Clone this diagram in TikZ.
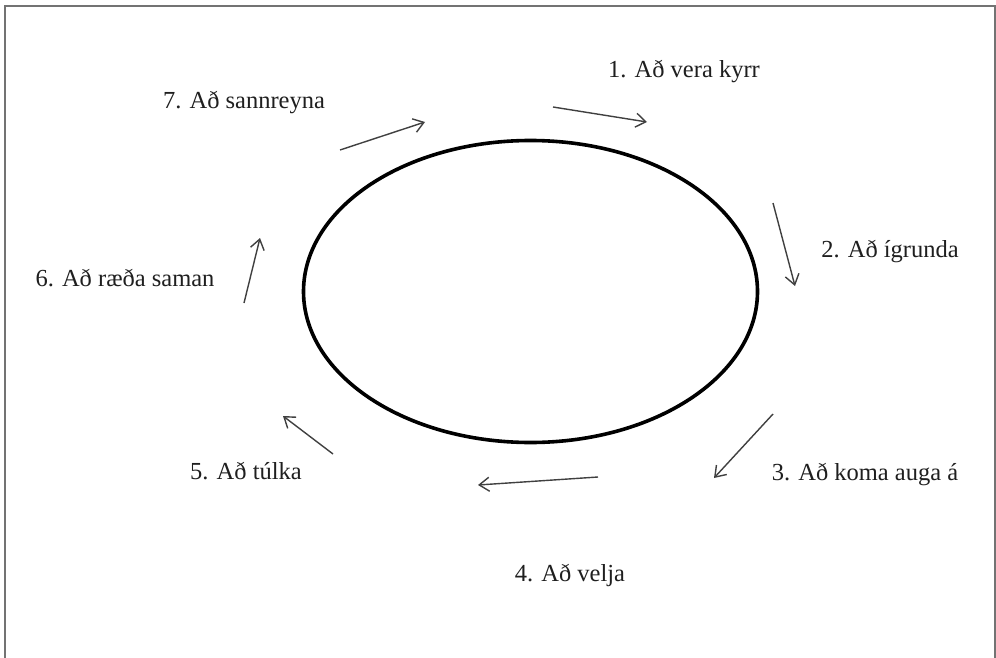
\documentclass[tikz,border=0pt]{standalone}
\usepackage{fontspec}
\setmainfont{Liberation Serif}
\usetikzlibrary{arrows.meta,shapes.geometric}
\begin{document}
\begin{tikzpicture}[x=1pt,y=-1pt,
  lbl/.style={font=\fontsize{24.5}{28}\selectfont, text=black!88, inner sep=0pt},
  arr/.style={draw=black!75, line width=1.4pt, -{Straight Barb[length=10pt,width=14pt,line width=1.4pt]}},
  ring/.style={draw=black, line width=3.6pt, ellipse, inner sep=0pt, minimum width=454pt, minimum height=302pt}]
\useasboundingbox (0,0) rectangle (996,658);
\fill[white] (0,0) rectangle (996,658);
\draw[draw=black!55, line width=2pt] (5,700) -- (5,6) -- (995,6) -- (995,700);
\node[ring] (ell) at (530.5,291.5) {};
\node[lbl] (t1) at (684,72) {1. Að vera kyrr};
\node[lbl] (t2) at (890,252) {2. Að ígrunda};
\node[lbl] (t3) at (865,475) {3. Að koma auga á};
\node[lbl] (t4) at (570,575) {4. Að velja};
\node[lbl] (t5) at (246,471) {5. Að túlka};
\node[lbl] (t6) at (125,278) {6. Að ræða saman};
\node[lbl] (t7) at (244,103) {7. Að sannreyna};
\coordinate (a1s) at (553,107); \coordinate (a1e) at (647,122);
\coordinate (a2s) at (773,203); \coordinate (a2e) at (795,286);
\coordinate (a3s) at (773,414); \coordinate (a3e) at (714,478);
\coordinate (a4s) at (598,477); \coordinate (a4e) at (478,485);
\coordinate (a5s) at (333,454); \coordinate (a5e) at (283,416);
\coordinate (a6s) at (244,303); \coordinate (a6e) at (260,238);
\coordinate (a7s) at (340,150); \coordinate (a7e) at (425,122);
\foreach \i in {1,...,7} {\draw[arr] (a\i s) -- (a\i e);}
\end{tikzpicture}
\end{document}
